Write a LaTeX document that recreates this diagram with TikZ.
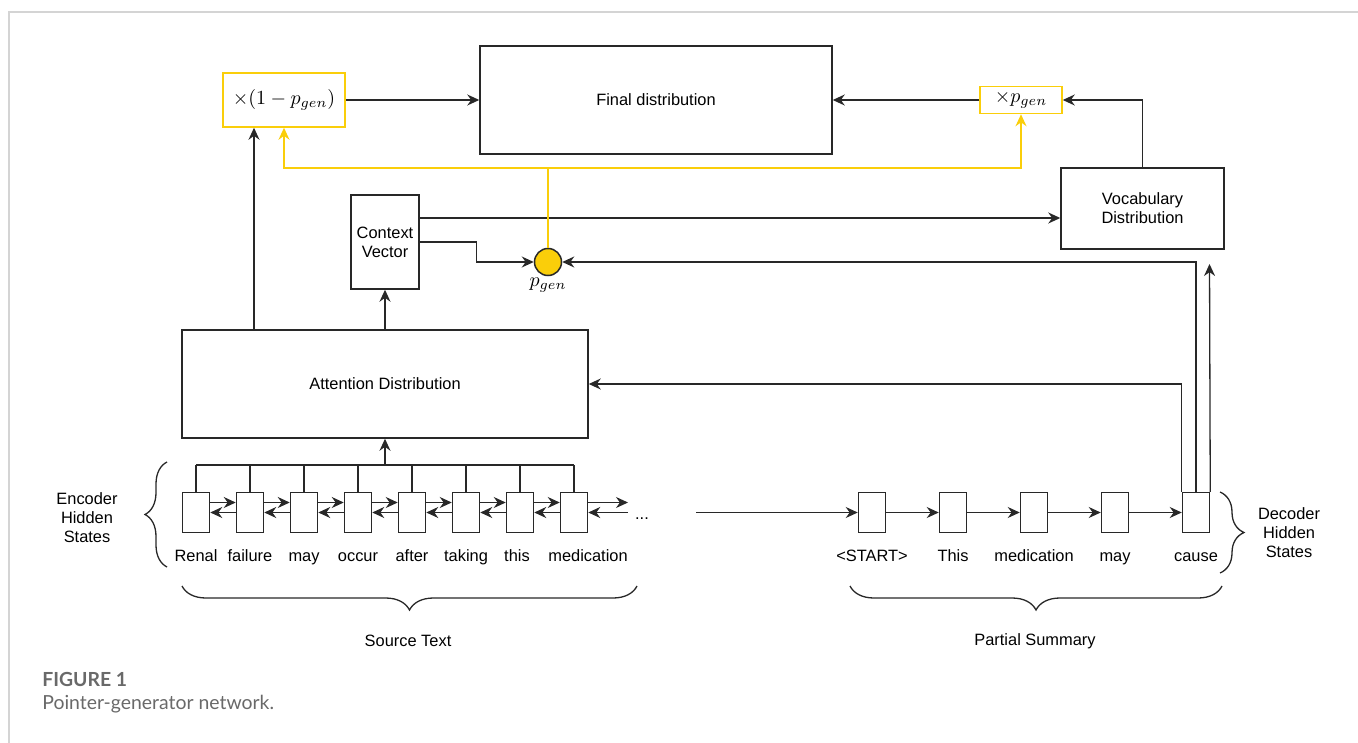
\documentclass[tikz,border=0pt]{standalone}
\usepackage{fontspec}
\setmainfont{Liberation Sans}
\newfontfamily\capfont{Lato}
\usetikzlibrary{arrows.meta,calc,decorations.pathreplacing}
\definecolor{pgold}{RGB}{250,206,10}
\definecolor{pline}{RGB}{40,40,40}
\definecolor{pframe}{RGB}{212,212,212}
\definecolor{pcap}{RGB}{105,105,105}

\begin{document}
\begin{tikzpicture}[x=0.5pt,y=-0.5pt,
    box/.style={draw=pline,line width=0.75pt,inner sep=0pt,align=center,font=\fontsize{8.2}{9.5}\selectfont},
    ybox/.style={draw=pgold,line width=0.75pt,inner sep=0pt},
    cell/.style={draw=pline,line width=0.75pt,minimum width=13.5pt,minimum height=20pt,inner sep=0pt},
    word/.style={inner sep=0pt,anchor=base,font=\fontsize{8.2}{9.5}\selectfont},
    side/.style={inner sep=0pt,align=center,font=\fontsize{8.2}{9.5}\selectfont},
    arr/.style={draw=pline,line width=0.65pt,-{Stealth[length=6pt,width=5.5pt]}},
    yarr/.style={draw=pgold,line width=0.65pt,-{Stealth[length=6pt,width=5.5pt]}},
    curly/.style={draw=pline,line width=0.65pt,decorate,decoration={brace,amplitude=12pt}}]

  \useasboundingbox (0,0) rectangle (1358,743);
  \draw[pframe,line width=0.8pt] (9,743) -- (9,12) -- (1358,12);

  \node[box,minimum width=176pt,minimum height=54pt] (final) at (656,100) {Final distribution};
  \node[ybox,minimum width=61pt,minimum height=27pt] (omp) at (284,100) {$\times(1-p_{gen})$};
  \node[ybox,minimum width=41pt,minimum height=13.5pt] (xp) at (1021,100) {$\times p_{gen}$};
  \node[box,minimum width=81.5pt,minimum height=40.5pt] (vocab) at (1142.5,208.5) {Vocabulary\\Distribution};
  \node[box,minimum width=34pt,minimum height=47pt] (ctx) at (385,242) {Context\\Vector};
  \node[circle,draw=pline,fill=pgold,line width=0.75pt,minimum size=13.5pt,inner sep=0pt] (pgen) at (548,262) {};
  \node[inner sep=0pt,anchor=north] (pgenlbl) at (548,277) {$p_{gen}$};
  \node[box,minimum width=203pt,minimum height=54pt] (att) at (385,384) {Attention Distribution};

  \foreach \x/\w [count=\i from 0] in {196/Renal,250/failure,304/may,358/occur,412/after,466/taking,517/this,588/medication} {
    \node[cell] (e\i) at (196+54*\i,512.5) {};
    \node[word] (ew\i) at (\x,561) {\w};
  }
  \foreach \w [count=\i from 0] in {<START>,This,medication,may,cause} {
    \node[cell] (d\i) at (872+81*\i,512.5) {};
    \node[word] (dw\i) at (872+81*\i,561) {\w};
  }
  \node[inner sep=0pt,anchor=base,font=\fontsize{8.2}{9.5}\selectfont] (dots) at (642,519) {...};

  \node[side] (enclbl) at (87,518) {Encoder\\Hidden\\States};
  \node[side] (declbl) at (1289,533) {Decoder\\Hidden\\States};
  \node[side] (srclbl) at (408,641) {Source Text};
  \node[side] (sumlbl) at (1035,641) {Partial Summary};

  \draw[curly,decoration={amplitude=11pt}] (167,567) -- (167,462);
  \draw[curly] (1220,492) -- (1220,573);
  \draw[curly] (637,586) -- (182,586);
  \draw[curly] (1222,586) -- (850,586);

  \draw[arr] (omp.east) -- (final.west);
  \draw[arr] (xp.west) -- (final.east);
  \draw[arr] (vocab.north) |- (xp.east);
  \draw[arr] (ctx.east |- 0,218) -- (vocab.west |- 0,218);
  \draw[arr] (ctx.east) -| ($(ctx.east)!.5!(pgen.west)$) |- (pgen.west);
  \draw[arr] (att.north) -- (ctx.south);
  \draw[arr] (att.north -| 254,0) -- (omp.south -| 254,0);

  \coordinate (ysplit) at (548,168);
  \draw[pgold,line width=0.65pt] (pgen.north) -- (ysplit);
  \draw[yarr] (ysplit) -| (omp.south);
  \draw[yarr] (ysplit) -| (xp.south);

  \foreach \i in {0,...,7} \draw[pline,line width=0.65pt] (e\i.north) -- (e\i.north |- 0,465);
  \draw[pline,line width=0.65pt] (e0.north |- 0,465) -- (e7.north |- 0,465);
  \draw[arr] (att.south |- 0,465) -- (att.south);
  \foreach \j [count=\i from 0] in {1,...,7} {
    \draw[arr] (e\i.east |- 0,502.5) -- (e\j.west |- 0,502.5);
    \draw[arr] (e\j.west) -- (e\i.east);
  }
  \coordinate (efwd) at (628,502.5);
  \coordinate (ebwd) at (628,512.5);
  \draw[arr] (e7.east |- efwd) -- (efwd);
  \draw[arr] (ebwd) -- (e7.east);

  \coordinate (dstart) at (696,512.5);
  \draw[arr] (dstart) -- (d0.west);
  \foreach \j [count=\i from 0] in {1,...,4} \draw[arr] (d\i.east) -- (d\j.west);

  \draw[arr] (d4.north west) |- (att.east);
  \draw[arr] (d4.north) |- (pgen.east);
  \coordinate (vtip) at (1209.5,264);
  \draw[arr] (d4.north east) -- (vtip);

  \node[anchor=base west,inner sep=0pt,text=pcap,font=\capfont\bfseries\fontsize{9.7}{11}\selectfont] (fignum) at (42,686) {FIGURE 1};
  \node[anchor=base west,inner sep=0pt,text=pcap,font=\capfont\fontsize{9.7}{11}\selectfont] (figcap) at (42,709) {Pointer-generator network.};
\end{tikzpicture}
\end{document}
